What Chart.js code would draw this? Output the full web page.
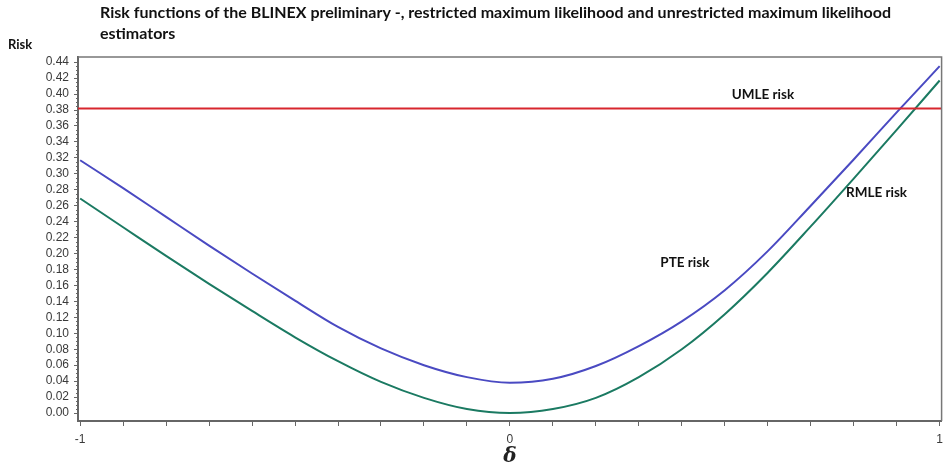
<!DOCTYPE html>
<html lang="en">
<head>
    <meta charset="UTF-8">
    <title>Risk functions BLINEX</title>
    <style>
        body { margin: 0; background: #fff; }
        canvas { display: block; }
    </style>
    <script src="https://cdn.jsdelivr.net/npm/chart.js"></script>
</head>
<body>
    <canvas id="riskChart" width="949" height="469"></canvas>

    <script>
    // Werte
    const deltaValues = [-1.0, -0.9, -0.8, -0.7, -0.6, -0.5, -0.4, -0.3, -0.2, -0.1, 0.0,
                         0.1, 0.2, 0.3, 0.4, 0.5, 0.6, 0.7, 0.8, 0.9, 1.0];
    const pteRisk  = [0.317, 0.282, 0.246, 0.210, 0.175, 0.141, 0.108, 0.081, 0.060, 0.045, 0.038,
                      0.043, 0.059, 0.084, 0.115, 0.154, 0.203, 0.260, 0.318, 0.377, 0.435];
    const rmleRisk = [0.269, 0.233, 0.197, 0.162, 0.128, 0.095, 0.065, 0.039, 0.019, 0.005, 0.000,
                      0.005, 0.019, 0.045, 0.080, 0.124, 0.176, 0.234, 0.294, 0.355, 0.417];
    const umleRisk = 0.382;

    const yTicks = [0.00, 0.02, 0.04, 0.06, 0.08, 0.10, 0.12, 0.14, 0.16, 0.18, 0.20, 0.22,
                    0.24, 0.26, 0.28, 0.30, 0.32, 0.34, 0.36, 0.38, 0.40, 0.42, 0.44];
    const xTicks = [-1.0, -0.9, -0.8, -0.7, -0.6, -0.5, -0.4, -0.3, -0.2, -0.1, 0.0,
                    0.1, 0.2, 0.3, 0.4, 0.5, 0.6, 0.7, 0.8, 0.9, 1.0];
    const xLabelled = [-1, 0, 1];

    const titleLines = ['Risk functions of the BLINEX preliminary -, restricted maximum likelihood and unrestricted maximum likelihood',
                        'estimators'];
    const seriesNames = ['UMLE risk', 'PTE risk', 'RMLE risk'];
    const labelDelta = [0.516, 0.350, 0.782];
    const labelRisk  = [0.399, 0.189, 0.276];

    const xMin = -1.005, xMax = 1.0045;
    const yMin = -0.01, yMax = 0.4465;

    const toPoints = vals => deltaValues.map((d, i) => ({ x: d, y: vals[i] }));

    // Rahmen, Nebenstriche und Texte
    const textPlugin = {
        id: 'texts',
        afterDraw(chart) {
            const { ctx, chartArea, scales: { x, y } } = chart;
            ctx.save();
            ctx.strokeStyle = '#777';
            ctx.lineWidth = 1.5;
            ctx.beginPath();
            ctx.moveTo(chartArea.left, chartArea.top);
            ctx.lineTo(chartArea.right, chartArea.top);
            ctx.lineTo(chartArea.right, chartArea.bottom);
            ctx.stroke();

            // kleine Striche auf der y-Achse
            ctx.strokeStyle = '#666';
            ctx.lineWidth = 1;
            ctx.beginPath();
            for (let i = 0; i < yTicks.length - 1; i++) {
                for (let k = 1; k < 4; k++) {
                    const v = yTicks[i] + (yTicks[i + 1] - yTicks[i]) * k / 4;
                    const py = Math.round(y.getPixelForValue(v)) + 0.5;
                    ctx.moveTo(chartArea.left - 2, py);
                    ctx.lineTo(chartArea.left, py);
                }
            }
            ctx.stroke();

            ctx.fillStyle = '#111';
            ctx.textAlign = 'left';
            ctx.textBaseline = 'middle';
            ctx.font = 'bold 16px Lato';
            ctx.fillText(titleLines[0], 100, 13, 796);
            ctx.fillText(titleLines[1], 100, 34);

            ctx.font = 'bold 13px Lato';
            ctx.fillText('Risk', 8, 45);

            ctx.font = 'bold 13.5px Lato';
            seriesNames.forEach((name, i) => {
                ctx.fillText(name, x.getPixelForValue(labelDelta[i]), y.getPixelForValue(labelRisk[i]));
            });

            ctx.textAlign = 'center';
            ctx.font = 'italic bold 20px "DejaVu Serif"';
            ctx.fillStyle = '#222';
            ctx.fillText('δ', x.getPixelForValue(0), 457);
            ctx.restore();
        }
    };

    const ctx = document.getElementById('riskChart').getContext('2d');
    const riskChart = new Chart(ctx, {
        type: 'line',
        data: {
            datasets: [
                {
                    label: 'UMLE risk',
                    data: [{ x: xMin, y: umleRisk }, { x: xMax, y: umleRisk }],
                    borderColor: '#d8262e',
                    borderWidth: 2,
                    pointRadius: 0
                },
                {
                    label: 'PTE risk',
                    data: toPoints(pteRisk),
                    borderColor: '#4a4ac2',
                    borderWidth: 2,
                    pointRadius: 0,
                    cubicInterpolationMode: 'monotone'
                },
                {
                    label: 'RMLE risk',
                    data: toPoints(rmleRisk),
                    borderColor: '#1b7a62',
                    borderWidth: 2,
                    pointRadius: 0,
                    cubicInterpolationMode: 'monotone'
                }
            ]
        },
        options: {
            responsive: false,
            animation: false,
            layout: { padding: { top: 57, right: 3, left: 0, bottom: 0 } },
            plugins: {
                legend: { display: false },
                title: { display: false },
                tooltip: { enabled: false }
            },
            scales: {
                x: {
                    type: 'linear',
                    min: xMin,
                    max: xMax,
                    afterFit: scale => { scale.height = 48; },
                    afterBuildTicks: scale => { scale.ticks = xTicks.map(v => ({ value: v })); },
                    border: { color: '#666', width: 2 },
                    grid: { drawOnChartArea: false, tickLength: 5, tickColor: '#666' },
                    ticks: {
                        padding: 6,
                        color: '#3a3a3a',
                        font: { family: 'Liberation Sans', size: 12 },
                        maxRotation: 0,
                        autoSkip: false,
                        callback: v => xLabelled.some(t => Math.abs(t - v) < 1e-9) ? String(Math.round(v)) : ''
                    }
                },
                y: {
                    type: 'linear',
                    min: yMin,
                    max: yMax,
                    afterFit: scale => { scale.width = 78; },
                    afterBuildTicks: scale => { scale.ticks = yTicks.map(v => ({ value: v })); },
                    border: { color: '#666', width: 2 },
                    grid: { drawOnChartArea: false, tickLength: 4, tickColor: '#666' },
                    ticks: {
                        padding: 5,
                        color: '#3a3a3a',
                        font: { family: 'Liberation Sans', size: 12 },
                        autoSkip: false,
                        callback: v => v.toFixed(2)
                    }
                }
            }
        },
        plugins: [textPlugin]
    });
    </script>
</body>
</html>
